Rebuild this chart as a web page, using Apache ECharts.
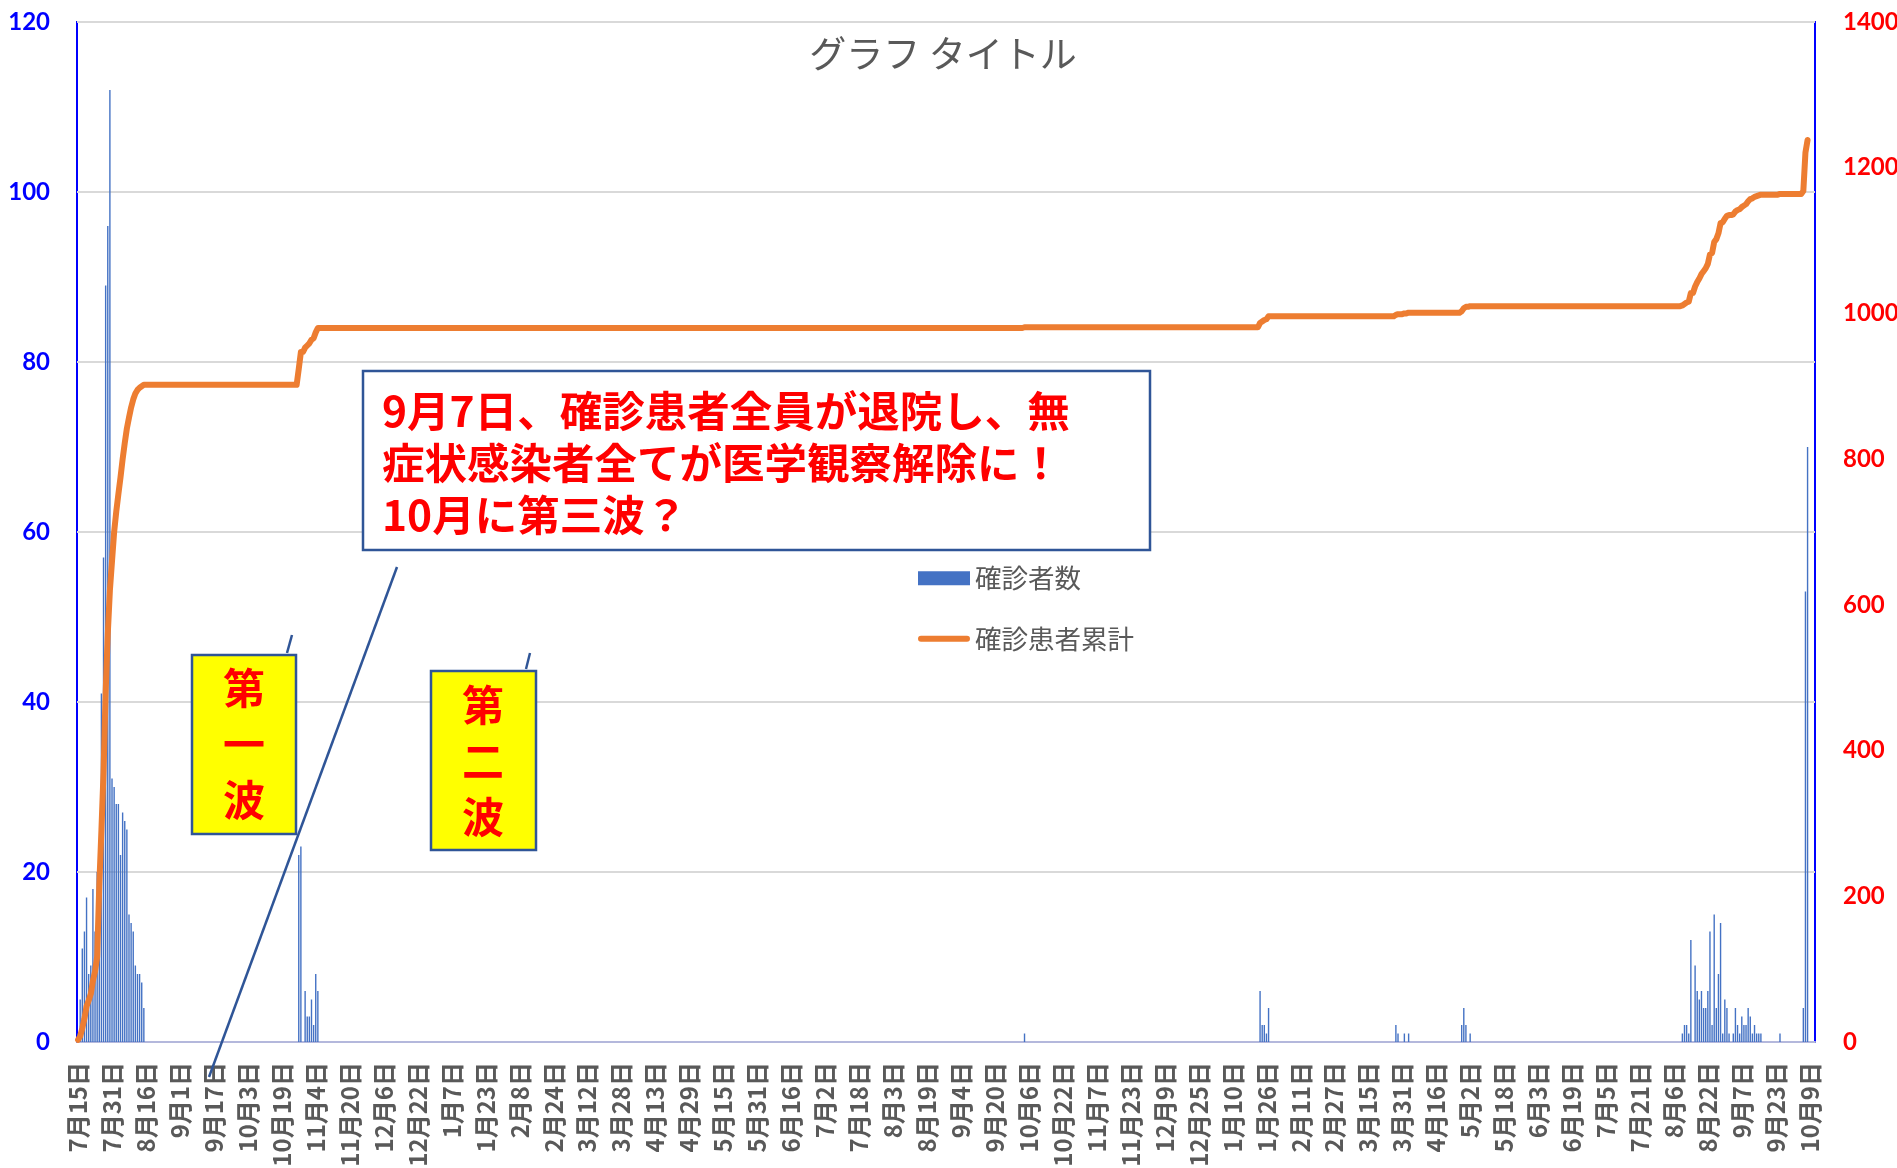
<!DOCTYPE html>
<html>
<head>
<meta charset="utf-8">
<script src="https://cdn.jsdelivr.net/npm/echarts@6/dist/echarts.min.js"></script>
<style>
html, body { margin: 0; padding: 0; background: #fff; }
#chart { width: 1897px; height: 1168px; }
</style>
</head>
<body>
<div id="chart"></div>
<script>
// category axis: one slot per day
var startDay = '2020-07-15';
var dayCount = 819;

// daily new cases, runs of consecutive days: [first day, counts...]
var wave1Cases = ['2020-07-15', [1, 5, 11, 13, 17, 8, 9, 18, 13, 20, 22, 41, 57, 89, 96, 112, 31, 30, 28, 28, 22, 27, 26, 25, 15, 14, 13, 9, 8, 8, 7, 4]];
var wave2Cases = ['2020-10-27', [22, 23, 0, 6, 3, 3, 5, 2, 8, 6]];
var oct2021Cases = ['2021-10-04', [1]];
var jan2022Cases = ['2022-01-23', [6, 2, 2, 1, 4]];
var mar2022Cases = ['2022-03-28', [2, 1, 0, 0, 1, 0, 1]];
var apr2022Cases = ['2022-04-28', [2, 4, 2, 0, 1]];
var wave3Cases = ['2022-08-10', [1, 2, 2, 1, 12, 0, 9, 6, 5, 6, 4, 4, 6, 13, 2, 15, 4, 8, 14, 1, 5, 4, 1, 0, 1, 4, 2, 1, 3, 2, 2, 4, 3, 1, 2, 1, 1, 1]];
var sep2022Cases = ['2022-09-25', [1]];
var oct2022Cases = ['2022-10-06', [4, 53, 70]];

// running total (right axis), given on the days it changes
var wave1Total = ['2020-07-15', [3, 8, 19, 32, 49, 57, 66, 84, 97, 117, 215, 290, 370, 480, 560, 620, 660, 700, 728, 752, 775, 800, 822, 842, 857, 871, 882, 890, 895, 898, 900, 902]];
var wave2Total = ['2020-10-27', [924, 947, 947, 953, 956, 959, 964, 966, 974, 980]];
var oct2021Total = ['2021-10-04', [981]];
var jan2022Total = ['2022-01-23', [987, 989, 991, 992, 996]];
var mar2022Total = ['2022-03-28', [998, 999, 999, 999, 1000, 1000, 1001]];
var apr2022Total = ['2022-04-28', [1003, 1007, 1009, 1009, 1010]];
var wave3Total = ['2022-08-10', [1011, 1013, 1015, 1016, 1028, 1028, 1037, 1043, 1048, 1054, 1058, 1062, 1068, 1081, 1083, 1098, 1102, 1110, 1124, 1125, 1130, 1134, 1135, 1135, 1136, 1140, 1142, 1143, 1146, 1148, 1150, 1154, 1157, 1158, 1160, 1161, 1162, 1163]];
var sep2022Total = ['2022-09-25', [1164]];
var oct2022Total = ['2022-10-06', [1168, 1221, 1238]];

var yLeft = { min: 0, max: 120, step: 20 };
var yRight = { min: 0, max: 1400, step: 200 };

function dayIndex(s) {
    var a = startDay.split('-'), b = s.split('-');
    return Math.round((Date.UTC(+b[0], b[1] - 1, +b[2]) - Date.UTC(+a[0], a[1] - 1, +a[2])) / 86400000);
}

var labels = [];
var t0 = dayIndex('1970-01-01');
for (var i = 0; i < dayCount; i++) {
    var d = new Date((i - t0) * 86400000);
    labels.push((d.getUTCMonth() + 1) + '月' + d.getUTCDate() + '日');
}

var daily = [];
for (var i = 0; i < dayCount; i++) daily.push(0);
[wave1Cases, wave2Cases, oct2021Cases, jan2022Cases, mar2022Cases, apr2022Cases, wave3Cases, sep2022Cases, oct2022Cases].forEach(function (run) {
    var k = dayIndex(run[0]);
    run[1].forEach(function (v, j) { daily[k + j] = v; });
});

// the total holds between change days, and stops at the last reported day
var totals = [];
for (var i = 0; i < dayCount; i++) totals.push(null);
var lastDay = 0;
[wave1Total, wave2Total, oct2021Total, jan2022Total, mar2022Total, apr2022Total, wave3Total, sep2022Total, oct2022Total].forEach(function (run) {
    var k = dayIndex(run[0]);
    run[1].forEach(function (v, j) { totals[k + j] = v; lastDay = Math.max(lastDay, k + j); });
});
var prev = 0;
for (var i = 0; i <= lastDay; i++) {
    if (totals[i] === null) totals[i] = prev; else prev = totals[i];
}
for (var i = lastDay + 1; i < dayCount; i++) totals[i] = '-';

var cjk = '"Noto Sans CJK JP", "Noto Sans CJK SC", sans-serif';
var navy = '#2f5597';

var chart = echarts.init(document.getElementById('chart'));
chart.setOption({
    animation: false,
    grid: {
        left: 77, right: 82, top: 22, bottom: 126,
        outerBoundsMode: 'none',
        show: true, borderColor: '#0000ff', borderWidth: 2
    },
    legend: {
        orient: 'vertical',
        left: 918, top: 565, padding: 0,
        itemGap: 34, itemWidth: 52, itemHeight: 14,
        textStyle: { color: '#595959', fontSize: 26.5, lineHeight: 26, fontFamily: cjk },
        data: [
            { name: '確診者数', icon: 'rect' },
            { name: '確診患者累計', icon: 'path://M3,0 H49 A3,3 0 0 1 49,6 H3 A3,3 0 0 1 3,0 Z' }
        ]
    },
    xAxis: {
        type: 'category',
        data: labels,
        axisLine: { lineStyle: { color: '#b4b8dc', width: 2 } },
        axisTick: { show: false },
        axisLabel: {
            interval: 15, rotate: 90, margin: 20,
            padding: [8, 0, 0, 0],
            color: '#595959', fontSize: 24, fontWeight: 'bold', fontFamily: cjk
        }
    },
    yAxis: [{
        type: 'value',
        min: yLeft.min, max: yLeft.max, interval: yLeft.step,
        axisLine: { show: false },
        axisLabel: { color: '#0000ff', fontSize: 24, fontWeight: 'bold', fontFamily: 'Lato', margin: 27 },
        splitLine: { lineStyle: { color: '#d9d9d9', width: 2 } }
    }, {
        type: 'value',
        position: 'right',
        min: yRight.min, max: yRight.max, interval: yRight.step,
        axisLine: { show: false },
        axisLabel: {
            color: '#ff0000', fontSize: 24, fontWeight: 'bold', fontFamily: 'Lato', margin: 28,
            formatter: function (v) { return String(v); }
        },
        splitLine: { show: false }
    }],
    series: [{
        name: '確診者数',
        type: 'bar',
        data: daily,
        barWidth: 1.4,
        itemStyle: { color: '#4472c4' }
    }, {
        name: '確診患者累計',
        type: 'line',
        yAxisIndex: 1,
        data: totals,
        symbol: 'none',
        lineStyle: { color: '#ed7d31', width: 6, cap: 'round', join: 'round' },
        itemStyle: { color: '#ed7d31' }
    }],
    graphic: [
        {
            type: 'text', x: 943, y: 54,
            style: { text: 'グラフ タイトル', fill: '#595959', font: '37px ' + cjk, align: 'center', verticalAlign: 'middle' }
        },
        // callout text box
        {
            type: 'rect', z: 10,
            shape: { x: 363, y: 371, width: 787, height: 179 },
            style: { fill: '#fff', stroke: navy, lineWidth: 2.5 }
        },
        {
            type: 'text', z: 11, x: 382, y: 385,
            style: {
                text: '9月7日、確診患者全員が退院し、無\n症状感染者全てが医学観察解除に！\n10月に第三波？',
                fill: '#ff0000', font: 'bold 42.5px ' + cjk, lineHeight: 52
            }
        },
        {
            type: 'line', z: 10,
            shape: { x1: 397, y1: 567, x2: 209, y2: 1077 },
            style: { stroke: navy, lineWidth: 2.5 }
        },
        // wave boxes
        {
            type: 'rect', z: 10,
            shape: { x: 192, y: 655, width: 104, height: 179 },
            style: { fill: '#ffff00', stroke: navy, lineWidth: 2.5 }
        },
        {
            type: 'text', z: 11, x: 244, y: 660,
            style: { text: '第\n一\n波', fill: '#ff0000', font: 'bold 42px ' + cjk, lineHeight: 56, align: 'center' }
        },
        {
            type: 'line', z: 10,
            shape: { x1: 287, y1: 653, x2: 292, y2: 635 },
            style: { stroke: navy, lineWidth: 2.5 }
        },
        {
            type: 'rect', z: 10,
            shape: { x: 431, y: 671, width: 105, height: 179 },
            style: { fill: '#ffff00', stroke: navy, lineWidth: 2.5 }
        },
        {
            type: 'text', z: 11, x: 483, y: 677,
            style: { text: '第\n二\n波', fill: '#ff0000', font: 'bold 42px ' + cjk, lineHeight: 56, align: 'center' }
        },
        {
            type: 'line', z: 10,
            shape: { x1: 526, y1: 669, x2: 530, y2: 653 },
            style: { stroke: navy, lineWidth: 2.5 }
        }
    ]
});
</script>
</body>
</html>
